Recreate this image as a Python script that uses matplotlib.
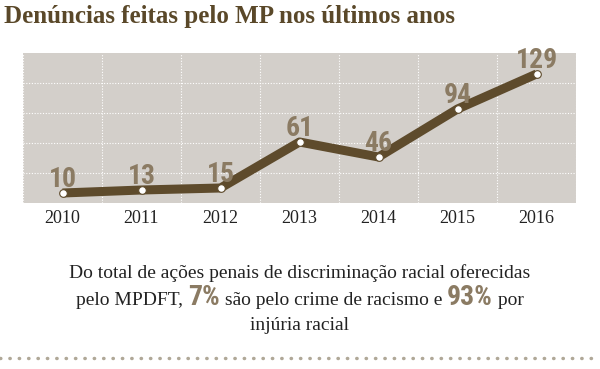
import numpy as np
import matplotlib.pyplot as plt
from matplotlib import font_manager

years = ["2010", "2011", "2012", "2013", "2014", "2015", "2016"]
denuncias = [10, 13, 15, 61, 46, 94, 129]
line2_parts = ["pelo MPDFT, ", "7%", " são pelo crime de racismo e ", "93%", " por"]

BROWN = "#5e4b2c"
LABEL = "#8b7b63"
BG = "#d3cfca"
SERIF = ["Liberation Serif", "DejaVu Serif"]

# pick a condensed bold face if one is installed
names = {f.name for f in font_manager.fontManager.ttflist}
stretches = {(f.name, f.stretch) for f in font_manager.fontManager.ttflist}
narrow = None
for cand in ["Liberation Sans Narrow", "Roboto Condensed", "Open Sans Condensed",
             "DejaVu Sans Condensed"]:
    if cand in names:
        narrow = cand
        break
if narrow is None and any(n == "DejaVu Sans" and s in ("condensed", 75, "semi-condensed")
                          for n, s in stretches):
    narrow = "DejaVu Sans"
NARROW = [narrow or "DejaVu Sans", "DejaVu Sans"]
num_fs = 20 if narrow else 17

fig = plt.figure(figsize=(6, 3.69), dpi=100)
ax = fig.add_axes([23/600, 1 - 203/369, 553/600, 150/369])
ax.set_facecolor(BG)

x = np.arange(len(years))
ax.plot(x, denuncias, color=BROWN, lw=6.5, solid_capstyle="butt", zorder=3)
ax.plot(x, denuncias, "o", ms=5.5, mfc="white", mec=BROWN, mew=0.8, zorder=4)
for xi, v in zip(x, denuncias):
    ax.text(xi, v + 6, str(v), ha="center", va="baseline", fontsize=num_fs,
            fontweight="bold", fontstretch="condensed", color=LABEL,
            family=NARROW, zorder=5)

ax.set_xlim(-0.5, 6.5)
ax.set_ylim(0, 150)
ax.set_xticks(np.arange(-0.5, 7, 1))
ax.set_xticklabels([])
ax.set_yticks([30, 60, 90, 120])
ax.grid(True, color="white", lw=0.8, ls=(0, (1, 1.5)))
ax.tick_params(length=0, labelleft=False)
for s in ax.spines.values():
    s.set_visible(False)
for xi, yr in zip(x, years):
    ax.text(xi, -7, yr, ha="center", va="top", fontsize=13, family=SERIF,
            color="#222222", clip_on=False)

fig.text(4/600, 1 - 17/369, "Denúncias feitas pelo MP nos últimos anos",
         ha="left", va="center", fontsize=18, fontweight="bold",
         family=SERIF, color="#5a4829")

fs = 14
fig.text(0.5, 1 - 273/369,
         "Do total de ações penais de discriminação racial oferecidas",
         ha="center", va="center", fontsize=fs, family=SERIF, color="#222222")
fig.text(0.5, 1 - 325/369, "injúria racial", ha="center", va="center",
         fontsize=fs, family=SERIF, color="#222222")

# middle line with highlighted percentages
renderer = fig.canvas.get_renderer()
pieces = []
for i, part in enumerate(line2_parts):
    if i % 2 == 1:
        t = fig.text(0, 1 - 305/369, part, ha="left", va="baseline", fontsize=num_fs,
                     fontweight="bold", fontstretch="condensed", family=NARROW,
                     color=LABEL)
    else:
        t = fig.text(0, 1 - 305/369, part, ha="left", va="baseline", fontsize=fs,
                     family=SERIF, color="#222222")
    pieces.append(t)
widths = [p.get_window_extent(renderer).width for p in pieces]
start = (600 - sum(widths)) / 2
for p, w in zip(pieces, widths):
    p.set_x(start / 600)
    start += w

# dotted separator
fig.add_artist(plt.Line2D([0, 1], [1 - 358/369] * 2, color="#b0a898", lw=2.5,
                          ls=(0, (0.1, 2.6)), dash_capstyle="round"))

fig.savefig("out.png", dpi=100)
